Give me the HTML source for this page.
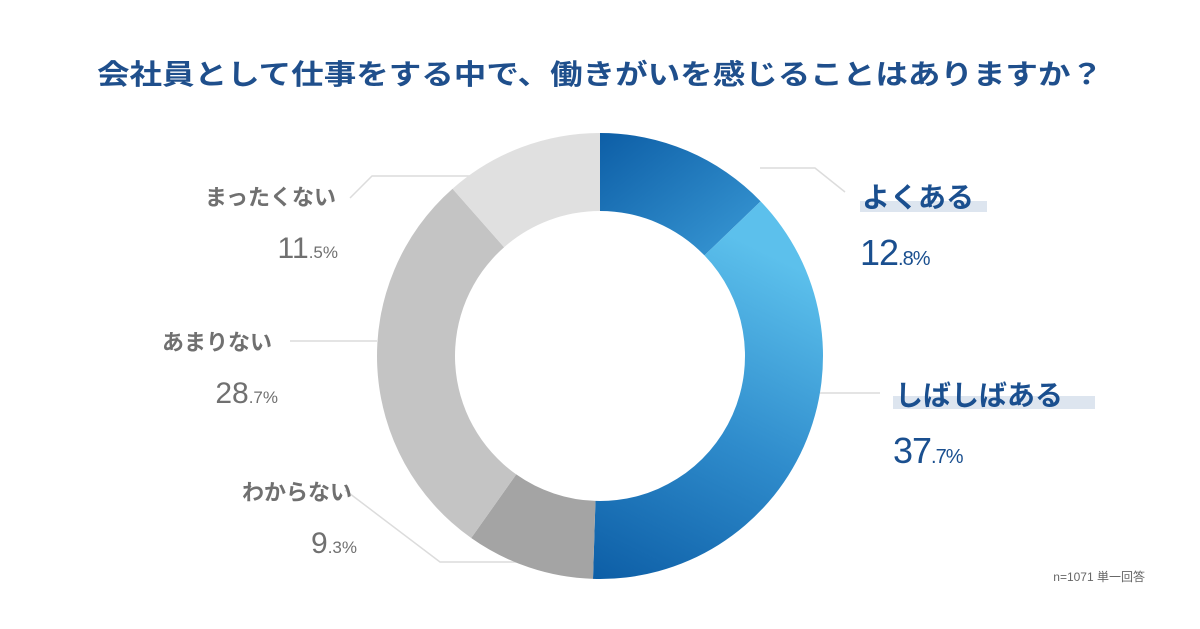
<!DOCTYPE html>
<html><head><meta charset="utf-8">
<style>
html,body{margin:0;padding:0;background:#fff;}
svg{display:block;}
text{font-family:"Liberation Sans","Noto Sans CJK JP",sans-serif;}
</style></head>
<body>
<svg id="chart" width="1200" height="629" viewBox="0 0 1200 629">
<defs>
<linearGradient id="g1" x1="0" y1="0" x2="1" y2="1">
<stop offset="0" stop-color="#0d5ea6"/><stop offset="1" stop-color="#3a9ad6"/>
</linearGradient>
<linearGradient id="g2" x1="0.3" y1="0" x2="0" y2="1">
<stop offset="0" stop-color="#5cc0ec"/><stop offset="0.5" stop-color="#2f8ccc"/><stop offset="1" stop-color="#0d5ea6"/>
</linearGradient>
</defs>
<text x="97" y="84" textLength="1006" lengthAdjust="spacingAndGlyphs" font-size="28" font-weight="bold" fill="#1f4f8c">会社員として仕事をする中で、働きがいを感じることはありますか？</text>
<g id="leaders" fill="none" stroke="#dcdcdc" stroke-width="1.5">
<polyline points="760,168 815,168 845,192"/>
<polyline points="820,393 880,393"/>
<polyline points="350,198 372,176 470,176"/>
<polyline points="290,341 377,341"/>
<polyline points="345,490 440,562 597,562"/>
</g>
<g id="ring"></g>
<rect x="860" y="201" width="127" height="11" fill="#dde5ef"/>
<text x="862" y="207" font-size="28" font-weight="bold" fill="#1a4f8f">よくある</text>
<text x="860" y="265" font-size="36" fill="#1a4f8f" letter-spacing="-1">12<tspan font-size="20">.8%</tspan></text>
<rect x="893" y="396" width="202" height="13" fill="#dde5ef"/>
<text x="895" y="405" font-size="28" font-weight="bold" fill="#1a4f8f">しばしばある</text>
<text x="893" y="463" font-size="36" fill="#1a4f8f" letter-spacing="-1">37<tspan font-size="20">.7%</tspan></text>
<g fill="#707070" text-anchor="end">
<text x="336" y="205" font-size="22" font-weight="bold">まったくない</text>
<text x="338" y="258" font-size="30">11<tspan font-size="17">.5%</tspan></text>
<text x="272" y="350" font-size="22" font-weight="bold">あまりない</text>
<text x="278" y="403" font-size="30">28<tspan font-size="17">.7%</tspan></text>
<text x="352" y="500" font-size="22" font-weight="bold">わからない</text>
<text x="357" y="553" font-size="30">9<tspan font-size="17">.3%</tspan></text>
</g>
<text x="1145" y="581" text-anchor="end" font-size="12" fill="#666">n=1071 単一回答</text>
</svg>
<script>
const categories = ["よくある","しばしばある","わからない","あまりない","まったくない"];
const values = [12.8, 37.7, 9.3, 28.7, 11.5];
const fills = ["url(#g1)","url(#g2)","#a4a4a4","#c4c4c4","#e0e0e0"];
const cx=600, cy=356, R=223, r=145;
const total = values.reduce((a,b)=>a+b,0);
function ang(v){ return v/total*2*Math.PI - Math.PI/2; }
function pt(a,rad){ return [cx+rad*Math.cos(a), cy+rad*Math.sin(a)]; }
const ring=document.getElementById('ring');
let acc=0;
values.forEach((v,i)=>{
  const a0=ang(acc), a1=ang(acc+v); acc+=v;
  const large=(a1-a0)>Math.PI?1:0;
  const p1=pt(a0,R),p2=pt(a1,R),p3=pt(a1,r),p4=pt(a0,r);
  const d=`M${p1[0]},${p1[1]} A${R},${R} 0 ${large} 1 ${p2[0]},${p2[1]} L${p3[0]},${p3[1]} A${r},${r} 0 ${large} 0 ${p4[0]},${p4[1]} Z`;
  const el=document.createElementNS('http://www.w3.org/2000/svg','path');
  el.setAttribute('d',d);
  el.setAttribute('fill',fills[i]);
  
  
  ring.appendChild(el);
});
</script>
</body></html>
